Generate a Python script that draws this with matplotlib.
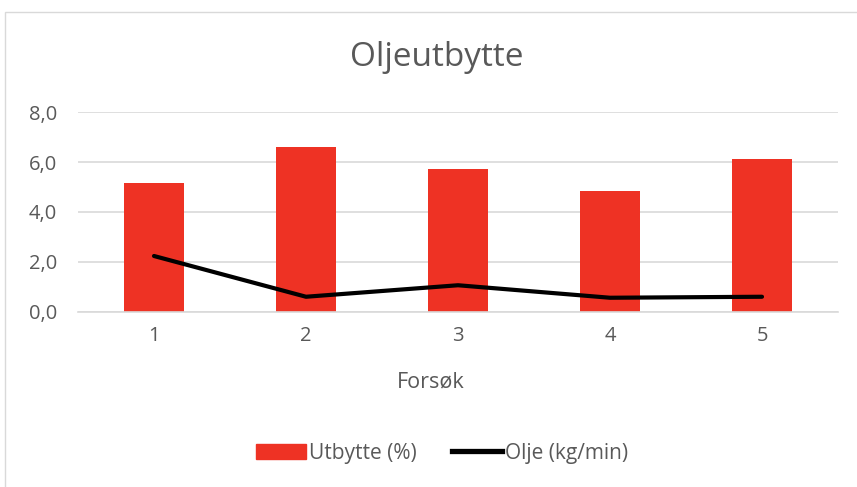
import matplotlib
matplotlib.use("Agg")
import matplotlib.pyplot as plt
from matplotlib.patches import Rectangle
from matplotlib.lines import Line2D
import numpy as np

categories = ["1", "2", "3", "4", "5"]
utbytte = [5.16, 6.61, 5.72, 4.83, 6.11]
olje = [2.24, 0.61, 1.07, 0.57, 0.61]
y_ticks = [0, 2, 4, 6, 8]
y_labels = ["0,0", "2,0", "4,0", "6,0", "8,0"]

plt.rcParams["font.family"] = ["Open Sans", "DejaVu Sans"]
text_color = "#595959"
bar_color = "#ee3224"

fig = plt.figure(figsize=(8.57, 4.87), dpi=100)
fig.patches.append(Rectangle((5 / 857, -0.1), 1.2, (487 - 12) / 487 + 0.1,
                             transform=fig.transFigure, fill=False,
                             edgecolor="#d9d9d9", linewidth=1))

ax = fig.add_axes([78 / 857, 175 / 487, 760 / 857, 200 / 487])
x = np.arange(len(categories))
ax.bar(x, utbytte, width=0.4, color=bar_color, zorder=2)
ax.plot(x, olje, color="black", linewidth=3, solid_capstyle="round", zorder=3)

ax.set_xlim(-0.5, len(categories) - 0.5)
ax.set_ylim(0, 8)
ax.set_yticks(y_ticks)
ax.set_yticklabels(y_labels)
ax.set_xticks(x)
ax.set_xticklabels(categories)
ax.yaxis.grid(True, color="#d9d9d9", linewidth=1.2, zorder=0)
ax.set_axisbelow(True)
for side in ["top", "right", "left"]:
    ax.spines[side].set_visible(False)
ax.spines["bottom"].set_color("#d9d9d9")
ax.spines["bottom"].set_linewidth(1.2)
ax.tick_params(axis="both", length=0, labelsize=14.5, colors=text_color, pad=10)
ax.tick_params(axis="y", pad=15)
ax.set_xlabel("Forsøk", fontsize=15.5, color=text_color)
ax.xaxis.set_label_coords((431 - 78) / 760, -0.3)

fig.text(437 / 857, 1 - 57 / 487, "Oljeutbytte", ha="center", va="center",
         fontsize=24, color=text_color)

handles = [Rectangle((0, 0), 1, 1, color=bar_color),
           Line2D([0], [0], color="black", linewidth=3.8)]
fig.legend(handles, ["Utbytte (%)", "Olje (kg/min)"], loc="center",
           bbox_to_anchor=(442 / 857, 1 - 453 / 487), ncol=2, frameon=False,
           fontsize=15, labelcolor=text_color, handlelength=2.4,
           handletextpad=0.12, columnspacing=1.7)

fig.savefig("out.png", dpi=100)
